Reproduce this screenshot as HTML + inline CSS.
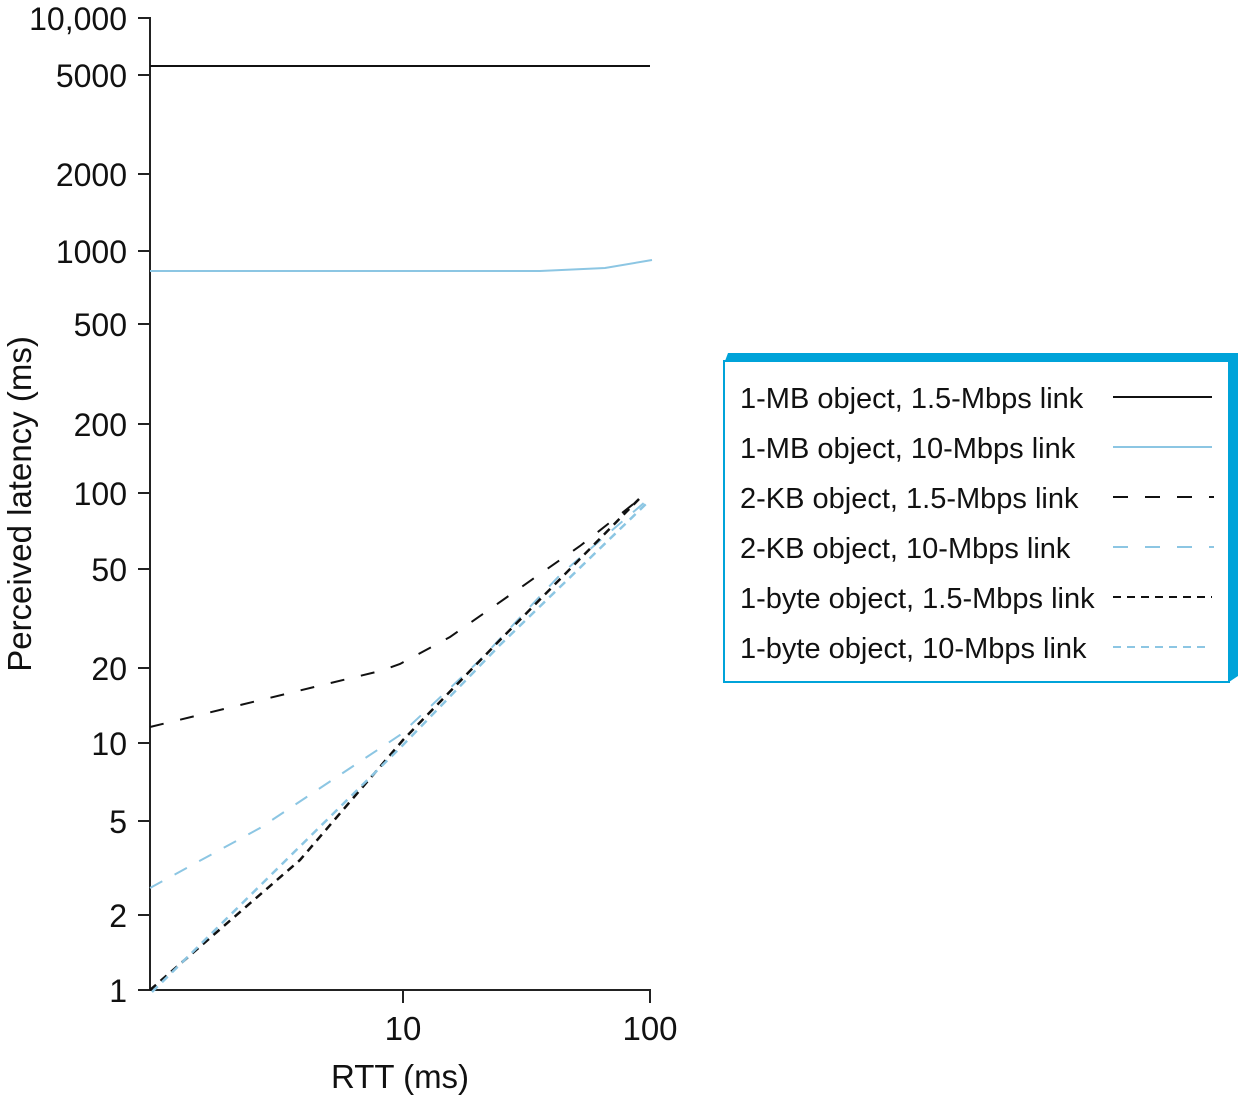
<!DOCTYPE html>
<html><head><style>body{margin:0;background:#fff}</style></head><body>
<svg width="1241" height="1095" xmlns="http://www.w3.org/2000/svg" font-family="Liberation Sans, sans-serif">
<g stroke="#222" stroke-width="2" fill="none">
<line x1="150" y1="17" x2="150" y2="991"/>
<line x1="149" y1="990" x2="651" y2="990"/>
<path d="M138 18H150M138 75H150M138 174H150M138 251H150M138 324H150M138 424H150M138 493H150M138 569H150M138 668H150M138 743H150M138 821H150M138 915H150M138 990H150"/>
<path d="M403 990V1003M650 990V1003"/>
</g>
<g font-size="32" fill="#111" text-anchor="end">
<text x="127" y="30">10,000</text>
<text x="127" y="87">5000</text>
<text x="127" y="186">2000</text>
<text x="127" y="263">1000</text>
<text x="127" y="336">500</text>
<text x="127" y="436">200</text>
<text x="127" y="505">100</text>
<text x="127" y="581">50</text>
<text x="127" y="680">20</text>
<text x="127" y="755">10</text>
<text x="127" y="833">5</text>
<text x="127" y="927">2</text>
<text x="127" y="1002">1</text>
</g>
<g font-size="33" fill="#111" text-anchor="middle">
<text x="403" y="1040">10</text>
<text x="650" y="1040">100</text>
<text x="400" y="1088">RTT (ms)</text>
<text transform="translate(31,504) rotate(-90)">Perceived latency (ms)</text>
</g>
<g fill="none" stroke-width="2">
<line x1="150" y1="66" x2="650" y2="66" stroke="#111"/>
<polyline points="150,271 540,271 605,268 652,260" stroke="#8cc6e3"/>
<polyline points="150,727 380,671 400,664 450,637 520,588 580,546 641,498" stroke="#111" stroke-dasharray="14,17"/>
<polyline points="150,888 260,828 400,735 480,660 560,575 645,502" stroke="#8cc6e3" stroke-dasharray="14,14"/>
<polyline points="150,990 300,860 403,740 500,640 640,498" stroke="#111" stroke-width="2.5" stroke-dasharray="8,6"/>
<polyline points="152,992 403,745 500,645 648,502" stroke="#8cc6e3" stroke-width="2.5" stroke-dasharray="8,6"/>
</g>
<g>
<polygon points="728,353 1238,353 1238,676 1229,682 1229,361 725,361" fill="#00a3d9"/>
<rect x="724" y="361" width="505" height="321" fill="#fff" stroke="#00a3d9" stroke-width="2"/>
</g>
<g font-size="29" fill="#111">
<text x="740" y="408">1-MB object, 1.5-Mbps link</text>
<text x="740" y="458">1-MB object, 10-Mbps link</text>
<text x="740" y="508">2-KB object, 1.5-Mbps link</text>
<text x="740" y="558">2-KB object, 10-Mbps link</text>
<text x="740" y="608">1-byte object, 1.5-Mbps link</text>
<text x="740" y="658">1-byte object, 10-Mbps link</text>
</g>
<g stroke-width="2">
<line x1="1113" y1="397" x2="1212" y2="397" stroke="#111"/>
<line x1="1113" y1="447" x2="1212" y2="447" stroke="#8cc6e3"/>
<line x1="1113" y1="497" x2="1214" y2="497" stroke="#111" stroke-dasharray="15,17"/>
<line x1="1113" y1="547" x2="1214" y2="547" stroke="#8cc6e3" stroke-dasharray="15,17"/>
<line x1="1113" y1="597" x2="1212" y2="597" stroke="#111" stroke-dasharray="8,6"/>
<line x1="1113" y1="647" x2="1206" y2="647" stroke="#8cc6e3" stroke-dasharray="8,6"/>
</g>
</svg>
</body></html>
